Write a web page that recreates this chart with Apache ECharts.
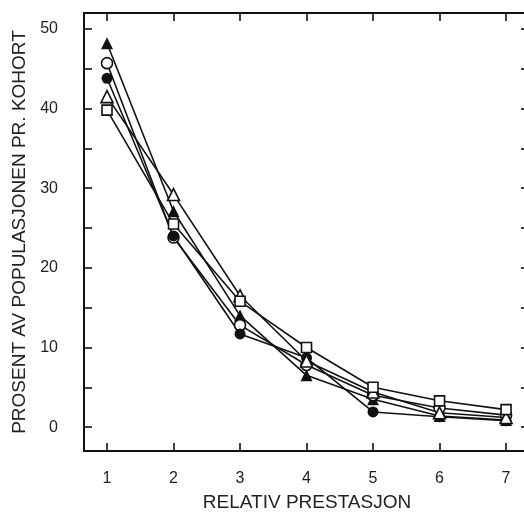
<!DOCTYPE html>
<html>
<head>
<meta charset="utf-8">
<script src="https://cdn.jsdelivr.net/npm/echarts@6/dist/echarts.min.js"></script>
<style>
html,body{margin:0;padding:0;background:#fff;}
#c{width:524px;height:517px;}
</style>
</head>
<body>
<div id="c"></div>
<script>
const categories = [1, 2, 3, 4, 5, 6, 7];
const filledTriangle = [48.2, 27.1, 14.0, 6.5, 3.5, 1.4, 0.9];
const openCircle = [45.7, 23.8, 12.8, 7.8, 4.0, 2.4, 1.5];
const filledCircle = [43.8, 24.0, 11.7, 8.7, 1.9, 1.3, 0.8];
const openTriangle = [41.5, 29.2, 16.5, 8.3, 4.4, 1.8, 1.2];
const openSquare = [39.8, 25.5, 15.8, 10.0, 5.0, 3.3, 2.2];
const yTicks = [0, 5, 10, 15, 20, 25, 30, 35, 40, 45, 50];
const yLabels = [0, 10, 20, 30, 40, 50];

const font = '"Liberation Sans", Arial, sans-serif';
function mk(name, data, symbol, filled) {
  return {
    name: name,
    type: 'line',
    xAxisIndex: 0, yAxisIndex: 0,
    data: categories.map((c, i) => [c, data[i]]),
    symbol: symbol,
    symbolSize: symbol === 'triangle' ? 12 : (symbol === 'rect' ? 10 : 11),
    showAllSymbol: true,
    lineStyle: {color: '#111', width: 1.6},
    itemStyle: {color: filled ? '#111' : '#fff', borderColor: '#111', borderWidth: filled ? 0 : 1.6},
    emphasis: {disabled: true},
    z: 3
  };
}
const axLine = {show: true, onZero: false, lineStyle: {color: '#111', width: 2}};
const chart = echarts.init(document.getElementById('c'));
chart.setOption({
  animation: false,
  backgroundColor: '#fff',
  grid: {left: 84, top: 13, right: 0, bottom: 62},
  xAxis: [{
    type: 'value', min: 0.654, max: 7.27, position: 'bottom',
    axisLine: axLine,
    axisTick: {show: true, inside: true, length: 8, customValues: categories, lineStyle: {color: '#111', width: 1.6}},
    axisLabel: {show: true, customValues: categories, margin: 20, fontSize: 16, color: '#222', fontFamily: font},
    splitLine: {show: false},
    name: 'RELATIV PRESTASJON', nameLocation: 'middle', nameGap: 42,
    nameTextStyle: {fontSize: 19, color: '#222', fontFamily: font, padding: [0, 0, 0, 6]}
  }, {
    type: 'value', min: 0.654, max: 7.27, position: 'top',
    axisLine: axLine,
    axisTick: {show: true, inside: true, length: 8, customValues: categories, lineStyle: {color: '#111', width: 1.6}},
    axisLabel: {show: false},
    splitLine: {show: false}
  }],
  yAxis: [{
    type: 'value', min: -3, max: 52, position: 'left',
    axisLine: axLine,
    axisTick: {show: true, inside: true, length: 8, customValues: yTicks, lineStyle: {color: '#111', width: 1.6}},
    axisLabel: {show: true, customValues: yLabels, margin: 26, fontSize: 16, color: '#222', fontFamily: font},
    splitLine: {show: false},
    name: 'PROSENT AV POPULASJONEN PR. KOHORT', nameLocation: 'middle', nameGap: 55, nameRotate: 90,
    nameTextStyle: {fontSize: 19, color: '#222', fontFamily: font}
  }, {
    type: 'value', min: -3, max: 52, position: 'right',
    axisLine: {show: false, onZero: false},
    axisTick: {show: true, inside: true, length: 3, customValues: yTicks, lineStyle: {color: '#111', width: 1.6}},
    axisLabel: {show: false},
    splitLine: {show: false}
  }],
  series: [
    mk('filledTriangle', filledTriangle, 'triangle', true),
    mk('openCircle', openCircle, 'circle', false),
    mk('filledCircle', filledCircle, 'circle', true),
    mk('openTriangle', openTriangle, 'triangle', false),
    mk('openSquare', openSquare, 'rect', false)
  ]
});
</script>
</body>
</html>
